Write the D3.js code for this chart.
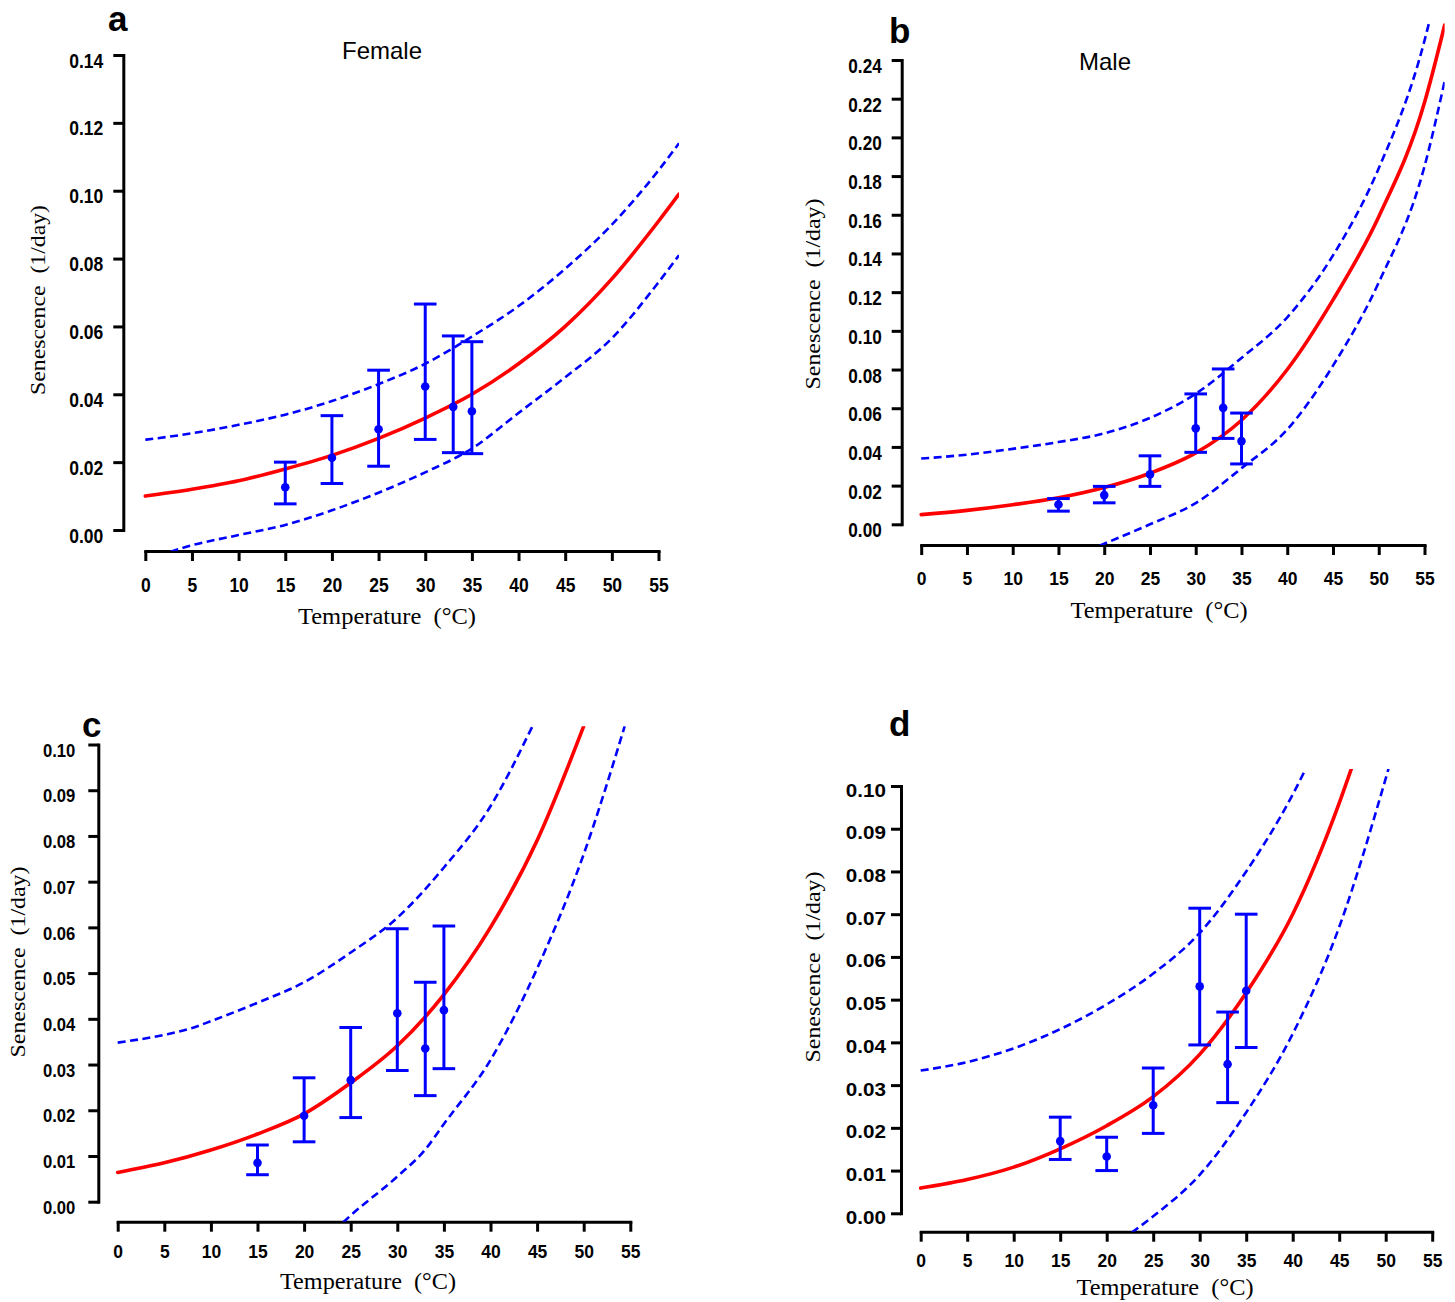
<!DOCTYPE html>
<html>
<head>
<meta charset="utf-8">
<script src="https://cdn.jsdelivr.net/npm/d3@7"></script>
<style>
  body { margin: 0; background: #fff; }
  svg { display: block; }
</style>
</head>
<body>
<svg id="chart" width="1455" height="1302"></svg>
<script>
// ---- data ----
var tempTicks = [0, 5, 10, 15, 20, 25, 30, 35, 40, 45, 50, 55];
var femaleTicks = [0, 0.02, 0.04, 0.06, 0.08, 0.10, 0.12, 0.14];
var maleTicks = [0, 0.02, 0.04, 0.06, 0.08, 0.10, 0.12, 0.14, 0.16, 0.18, 0.20, 0.22, 0.24];
var fineTicks = [0, 0.01, 0.02, 0.03, 0.04, 0.05, 0.06, 0.07, 0.08, 0.09, 0.10];

// rearing temperatures
var temps = [15, 20, 25, 30, 33, 35];

// a - female
var aMean = [0.0126, 0.0213, 0.0297, 0.0423, 0.0363, 0.0350];
var aLow  = [0.0077, 0.0137, 0.0188, 0.0267, 0.0228, 0.0225];
var aHigh = [0.0200, 0.0337, 0.0471, 0.0666, 0.0572, 0.0555];
var aFit   = [[0, 0.010], [5, 0.012], [10, 0.0145], [15, 0.018], [20, 0.022], [25, 0.027], [30, 0.033], [35, 0.040], [40, 0.049], [45, 0.060], [50, 0.074], [55, 0.091], [57.2, 0.099]];
var aUpper = [[0, 0.0266], [5, 0.0285], [10, 0.031], [15, 0.034], [20, 0.038], [25, 0.043], [30, 0.049], [35, 0.057], [40, 0.066], [45, 0.077], [50, 0.090], [55, 0.106], [57.2, 0.114]];
var aLower = [[2.7, -0.0064], [5, -0.0045], [10, -0.0015], [15, 0.0015], [20, 0.0058], [25, 0.011], [30, 0.017], [35, 0.024], [40, 0.0345], [45, 0.045], [50, 0.0565], [55, 0.073], [57.2, 0.081]];

// b - male
var bMean = [0.0102, 0.0151, 0.0258, 0.0496, 0.0602, 0.0430];
var bLow  = [0.0068, 0.0111, 0.0196, 0.0372, 0.0444, 0.0312];
var bHigh = [0.0133, 0.0196, 0.0354, 0.0674, 0.0803, 0.0575];
var bFit   = [[0, 0.005], [5, 0.0072], [10, 0.0101], [15, 0.0137], [20, 0.019], [25, 0.0264], [30, 0.0369], [35, 0.0538], [40, 0.080], [45, 0.116], [50, 0.159], [55, 0.218], [57.2, 0.258]];
var bUpper = [[0, 0.034], [5, 0.036], [10, 0.039], [15, 0.0425], [20, 0.047], [25, 0.055], [30, 0.0675], [35, 0.086], [40, 0.107], [45, 0.139], [50, 0.184], [55, 0.250], [55.8, 0.265]];
var bLower = [[19.5, -0.011], [25, 0.0], [30, 0.011], [35, 0.029], [40, 0.049], [45, 0.082], [50, 0.125], [55, 0.185], [57.2, 0.229]];

// c
var cMean = [0.0085, 0.0188, 0.0266, 0.0412, 0.0335, 0.0419];
var cLow  = [0.0059, 0.0131, 0.0184, 0.0287, 0.0232, 0.0291];
var cHigh = [0.0124, 0.0271, 0.0381, 0.0597, 0.0480, 0.0603];
var cFit   = [[0, 0.0064], [5, 0.0085], [10, 0.0113], [15, 0.0148], [20, 0.0192], [25, 0.026], [30, 0.0341], [35, 0.0453], [40, 0.060], [45, 0.079], [50, 0.104]];
var cUpper = [[0, 0.0348], [5, 0.0365], [8, 0.038], [10, 0.0395], [15, 0.0435], [20, 0.048], [25, 0.0545], [30, 0.0621], [35, 0.0731], [40, 0.0865], [44.5, 0.104]];
var cLower = [[24.2, -0.0045], [25, -0.003], [30, 0.0055], [33, 0.0114], [35, 0.017], [40, 0.031], [45, 0.051], [50, 0.076], [54.4, 0.104]];

// d
var dMean = [0.0169, 0.0133, 0.0253, 0.0531, 0.0349, 0.0521];
var dLow  = [0.0126, 0.0100, 0.0187, 0.0394, 0.0259, 0.0388];
var dHigh = [0.0225, 0.0178, 0.0340, 0.0714, 0.0471, 0.0700];
var dFit   = [[0, 0.0059], [5, 0.0079], [10, 0.0108], [15, 0.0151], [20, 0.0205], [25, 0.0273], [30, 0.0372], [35, 0.0516], [40, 0.070], [45, 0.096], [46.3, 0.104]];
var dUpper = [[0, 0.0334], [5, 0.0354], [10, 0.0386], [15, 0.0431], [20, 0.0489], [25, 0.0561], [30, 0.0656], [35, 0.080], [40, 0.098], [41.4, 0.104]];
var dLower = [[22.7, -0.0045], [25, -0.0007], [30, 0.009], [35, 0.0236], [40, 0.042], [45, 0.067], [50.3, 0.104]];

// ---- layout of the four panels ----
var panels = [
  { key: 'a', title: 'Female', mean: aMean, low: aLow, high: aHigh, fit: aFit, upper: aUpper, lower: aLower, ticks: femaleTicks,
    xr: [145.3, 658.5], yr: [530, 55], axisX: 123.3, axisY: 551, yTop: 0.1456,
    yLab: { gap: 20, off: 12, sx: 1, sy: 1.17 }, xLab: { off: 40.5, sy: 1.17 },
    letter: [108, 31], titlePos: [382, 59], xTitle: [387, 624, 178], yTitle: [45, 300, 190] },
  { key: 'b', title: 'Male', mean: bMean, low: bLow, high: bHigh, fit: bFit, upper: bUpper, lower: bLower, ticks: maleTicks,
    xr: [921.2, 1424.5], yr: [524.3, 60], axisX: 901.7, axisY: 545, yTop: 0.26,
    yLab: { gap: 20, off: 12.5, sx: 0.98, sy: 1.12 }, xLab: { off: 40, sy: 1.08 },
    letter: [889, 43], titlePos: [1105, 70], xTitle: [1159, 618, 177], yTitle: [820, 294, 191] },
  { key: 'c', title: '', mean: cMean, low: cLow, high: cHigh, fit: cFit, upper: cUpper, lower: cLower, ticks: fineTicks,
    xr: [117.7, 630.3], yr: [1201.7, 744.5], axisX: 98.3, axisY: 1221.7, yTop: 0.104,
    yLab: { gap: 23, off: 11.7, sx: 0.95, sy: 1.06 }, xLab: { off: 36.6, sy: 1.02 },
    letter: [82, 737], titlePos: null, xTitle: [368, 1289, 176], yTitle: [25, 962, 191] },
  { key: 'd', title: '', mean: dMean, low: dLow, high: dHigh, fit: dFit, upper: dUpper, lower: dLower, ticks: fineTicks,
    xr: [920.7, 1432.2], yr: [1213.3, 786], axisX: 901, axisY: 1231.7, yTop: 0.104,
    yLab: { gap: 15, off: 10, sx: 1.18, sy: 1.06 }, xLab: { off: 35, sy: 1.02 },
    letter: [889, 736], titlePos: null, xTitle: [1165, 1295, 177], yTitle: [820, 967, 191] }
];

var BLUE = '#0000ff';
var RED = '#ff0000';
var SANS = '"Liberation Sans", Arial, Helvetica, sans-serif';
var SERIF = '"Liberation Serif", "Times New Roman", Times, serif';

var svg = d3.select('#chart');

panels.forEach(function (p, i) {
  var x = d3.scaleLinear().domain([0, 55]).range(p.xr);
  var y = d3.scaleLinear().domain([0, p.ticks[p.ticks.length - 1]]).range(p.yr);

  var g = svg.append('g').attr('class', 'panel-' + p.key);

  // clip to the plotting region (curves stop at the axes / box edge)
  var clipId = 'clip-' + p.key;
  var xRight = x(57.2);
  var yTopPx = y(p.yTop);
  svg.append('clipPath').attr('id', clipId)
    .append('rect')
      .attr('x', p.axisX)
      .attr('y', yTopPx)
      .attr('width', xRight - p.axisX)
      .attr('height', p.axisY - yTopPx);

  // y axis
  var yAxis = d3.axisLeft(y)
    .tickValues(p.ticks)
    .tickSize(10)
    .tickSizeOuter(0)
    .tickFormat(d3.format('.2f'));

  var gy = g.append('g')
    .attr('transform', 'translate(' + p.axisX + ',0)')
    .call(yAxis);

  gy.selectAll('text')
    .attr('x', null).attr('y', null).attr('dy', null)
    .attr('text-anchor', 'end')
    .attr('transform', 'translate(' + (-p.yLab.gap) + ',' + p.yLab.off + ') scale(' + p.yLab.sx + ',' + p.yLab.sy + ')');

  // x axis
  var xAxis = d3.axisBottom(x)
    .tickValues(tempTicks)
    .tickSize(10)
    .tickSizeOuter(0)
    .tickFormat(d3.format('d'));

  var gx = g.append('g')
    .attr('transform', 'translate(0,' + p.axisY + ')')
    .call(xAxis);

  gx.selectAll('text')
    .attr('x', null).attr('y', null).attr('dy', null)
    .attr('text-anchor', 'middle')
    .attr('transform', 'translate(0,' + p.xLab.off + ') scale(1,' + p.xLab.sy + ')');

  [gx, gy].forEach(function (ax) {
    ax.select('.domain').attr('stroke', '#000').attr('stroke-width', 3).attr('stroke-linecap', 'square');
    ax.selectAll('.tick line').attr('stroke', '#000').attr('stroke-width', 3);
    ax.selectAll('text')
      .attr('fill', '#000')
      .style('font-family', SANS)
      .style('font-weight', 'bold')
      .style('font-size', '17.5px');
  });

  var line = d3.line()
    .x(function (d) { return x(d[0]); })
    .y(function (d) { return y(d[1]); })
    .curve(d3.curveMonotoneX);

  var plot = g.append('g').attr('clip-path', 'url(#' + clipId + ')');

  // confidence band (dashed)
  [p.upper, p.lower].forEach(function (band) {
    plot.append('path')
      .attr('d', line(band))
      .attr('fill', 'none')
      .attr('stroke', BLUE)
      .attr('stroke-width', 2.6)
      .attr('stroke-dasharray', '8,4.5');
  });

  // error bars
  var bars = g.selectAll('.bar')
    .data(temps)
    .enter()
    .append('g')
      .attr('class', 'bar');

  bars.append('line')
    .attr('x1', function (d) { return x(d); })
    .attr('x2', function (d) { return x(d); })
    .attr('y1', function (d, j) { return y(p.low[j]); })
    .attr('y2', function (d, j) { return y(p.high[j]); });

  bars.append('line')
    .attr('x1', function (d) { return x(d) - 11.3; })
    .attr('x2', function (d) { return x(d) + 11.3; })
    .attr('y1', function (d, j) { return y(p.high[j]); })
    .attr('y2', function (d, j) { return y(p.high[j]); });

  bars.append('line')
    .attr('x1', function (d) { return x(d) - 11.3; })
    .attr('x2', function (d) { return x(d) + 11.3; })
    .attr('y1', function (d, j) { return y(p.low[j]); })
    .attr('y2', function (d, j) { return y(p.low[j]); });

  bars.selectAll('line')
    .attr('stroke', BLUE)
    .attr('stroke-width', 3);

  // fitted curve
  plot.append('path')
    .attr('d', line(p.fit))
    .attr('fill', 'none')
    .attr('stroke', RED)
    .attr('stroke-width', 3.6)
    .attr('stroke-linecap', 'round');

  // means
  g.selectAll('.pt')
    .data(temps)
    .enter()
    .append('circle')
      .attr('class', 'pt')
      .attr('cx', function (d) { return x(d); })
      .attr('cy', function (d, j) { return y(p.mean[j]); })
      .attr('r', 4.3)
      .attr('fill', BLUE);

  // panel letter
  g.append('text')
    .attr('x', p.letter[0])
    .attr('y', p.letter[1])
    .style('font-family', SANS)
    .style('font-weight', 'bold')
    .style('font-size', '35px')
    .text(p.key);

  if (p.titlePos) {
    g.append('text')
      .attr('x', p.titlePos[0])
      .attr('y', p.titlePos[1])
      .attr('text-anchor', 'middle')
      .style('font-family', SANS)
      .style('font-size', '24px')
      .text(p.title);
  }

  // axis titles
  g.append('text')
    .attr('x', p.xTitle[0])
    .attr('y', p.xTitle[1])
    .attr('text-anchor', 'middle')
    .attr('textLength', p.xTitle[2])
    .attr('lengthAdjust', 'spacingAndGlyphs')
    .style('font-family', SERIF)
    .style('font-size', '23px')
    .text('Temperature\u00a0\u00a0(\u00b0C)');

  g.append('text')
    .attr('transform', 'translate(' + p.yTitle[0] + ',' + p.yTitle[1] + ') rotate(-90)')
    .attr('text-anchor', 'middle')
    .attr('textLength', p.yTitle[2])
    .attr('lengthAdjust', 'spacingAndGlyphs')
    .style('font-family', SERIF)
    .style('font-size', '22px')
    .text('Senescence\u00a0\u00a0(1/day)');
});
</script>
</body>
</html>
